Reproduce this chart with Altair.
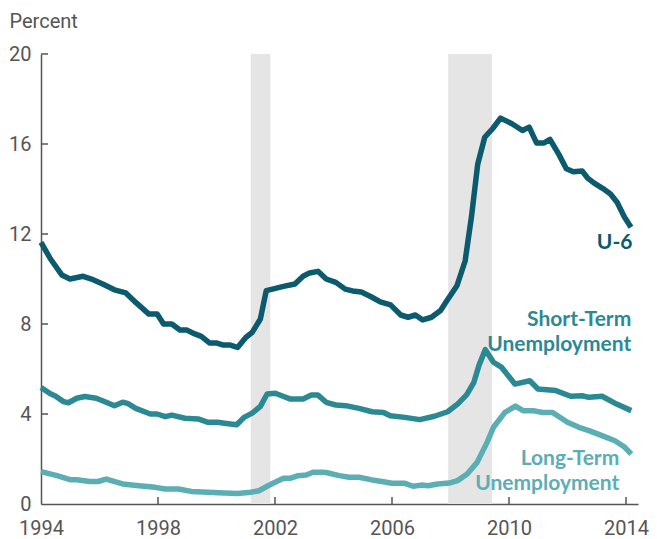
import altair as alt
import pandas as pd

# ---- data ----
u6_years = [1994.0, 1994.32, 1994.71, 1994.99, 1995.44, 1995.78, 1996.11, 1996.51, 1996.9,
            1997.24, 1997.69, 1997.97, 1998.19, 1998.47, 1998.75, 1998.98, 1999.26, 1999.48,
            1999.76, 1999.99, 2000.21, 2000.44, 2000.72, 2001.0, 2001.22, 2001.5, 2001.7,
            2001.95, 2002.29, 2002.68, 2002.96, 2003.18, 2003.47, 2003.75, 2004.08, 2004.4,
            2004.65, 2004.95, 2005.3, 2005.6, 2005.95, 2006.3, 2006.55, 2006.8, 2007.05,
            2007.35, 2007.66, 2007.88, 2008.22, 2008.5, 2008.72, 2008.93, 2009.17, 2009.45,
            2009.71, 2010.1, 2010.46, 2010.69, 2010.94, 2011.2, 2011.4, 2011.7, 2011.96,
            2012.2, 2012.5, 2012.7, 2012.9, 2013.2, 2013.47, 2013.7, 2013.94, 2014.17]
u6_values = [11.63, 10.9, 10.18, 10.0, 10.12, 9.97, 9.78, 9.52, 9.38,
             8.96, 8.44, 8.44, 8.0, 8.0, 7.73, 7.73, 7.56, 7.45,
             7.16, 7.16, 7.07, 7.07, 6.96, 7.4, 7.63, 8.22, 9.48,
             9.56, 9.67, 9.78, 10.12, 10.27, 10.34, 10.0, 9.85, 9.55,
             9.47, 9.42, 9.2, 8.98, 8.85, 8.4, 8.3, 8.4, 8.18,
             8.3, 8.6, 9.04, 9.7, 10.8, 12.8, 15.1, 16.3, 16.7,
             17.15, 16.9, 16.6, 16.75, 16.05, 16.05, 16.2, 15.55, 14.9,
             14.77, 14.8, 14.47, 14.27, 14.03, 13.78, 13.4, 12.77, 12.3]

st_years = [1994.0, 1994.32, 1994.49, 1994.77, 1994.94, 1995.22, 1995.5, 1995.89, 1996.23,
            1996.51, 1996.79, 1996.96, 1997.24, 1997.74, 1997.97, 1998.25, 1998.47, 1998.92,
            1999.37, 1999.71, 2000.04, 2000.27, 2000.69, 2000.94, 2001.22, 2001.5, 2001.73,
            2002.01, 2002.23, 2002.51, 2002.96, 2003.24, 2003.47, 2003.75, 2004.08, 2004.42,
            2004.87, 2005.32, 2005.71, 2005.94, 2006.44, 2006.95, 2007.45, 2007.9, 2008.24,
            2008.55, 2008.8, 2008.97, 2009.19, 2009.47, 2009.75, 2010.2, 2010.71, 2010.99,
            2011.6, 2012.11, 2012.5, 2012.73, 2013.18, 2013.68, 2014.18]
st_values = [5.18, 4.9, 4.8, 4.55, 4.5, 4.7, 4.78, 4.7, 4.52,
             4.37, 4.52, 4.47, 4.25, 4.0, 4.0, 3.88, 3.95, 3.81,
             3.78, 3.63, 3.63, 3.59, 3.52, 3.85, 4.04, 4.34, 4.89,
             4.92, 4.81, 4.67, 4.67, 4.84, 4.84, 4.52, 4.4, 4.37,
             4.25, 4.1, 4.07, 3.92, 3.85, 3.75, 3.9, 4.1, 4.44,
             4.85, 5.41, 6.15, 6.86, 6.3, 6.07, 5.33, 5.48, 5.11,
             5.04, 4.79, 4.81, 4.74, 4.79, 4.44, 4.15]

lt_years = [1994.0, 1994.55, 1994.99, 1995.22, 1995.67, 1995.95, 1996.23, 1996.79, 1997.35,
            1997.91, 1998.25, 1998.7, 1999.14, 1999.71, 2000.27, 2000.72, 2001.17, 2001.45,
            2001.73, 2001.95, 2002.29, 2002.51, 2002.79, 2003.07, 2003.3, 2003.58, 2003.75,
            2004.2, 2004.53, 2004.87, 2005.32, 2005.71, 2005.99, 2006.44, 2006.72, 2007.0,
            2007.23, 2007.56, 2007.96, 2008.24, 2008.57, 2008.91, 2009.25, 2009.47, 2009.86,
            2010.22, 2010.48, 2010.82, 2011.15, 2011.49, 2012.0, 2012.39, 2012.73, 2013.18,
            2013.62, 2013.96, 2014.18]
lt_values = [1.44, 1.26, 1.08, 1.08, 1.0, 1.0, 1.11, 0.89, 0.81,
             0.74, 0.67, 0.67, 0.56, 0.52, 0.49, 0.47, 0.52, 0.59,
             0.79, 0.93, 1.14, 1.14, 1.26, 1.29, 1.41, 1.41, 1.4,
             1.26, 1.19, 1.19, 1.07, 0.99, 0.92, 0.92, 0.79, 0.84,
             0.81, 0.89, 0.93, 1.04, 1.33, 1.85, 2.74, 3.41, 4.07,
             4.35, 4.15, 4.15, 4.07, 4.07, 3.63, 3.41, 3.26, 3.04,
             2.81, 2.52, 2.22]

recession_start = [2001.17, 2007.92]
recession_end = [2001.84, 2009.42]

y_ticks = [0, 4, 8, 12, 16, 20]
x_ticks = [1994, 1998, 2002, 2006, 2010, 2014]

series_names = ["U-6", "Short-Term", "Long-Term"]
series_colors = ["#0b5a6e", "#2b8994", "#5aaeb4"]

label_text = ["U-6", "Short-Term", "Unemployment", "Long-Term", "Unemployment"]
label_series = ["U-6", "Short-Term", "Short-Term", "Long-Term", "Long-Term"]
label_x = [2014.22, 2014.18, 2014.18, 2013.77, 2013.77]
label_y = [11.33, 7.92, 6.81, 1.73, 0.62]

y_title = "Percent"

# ---- build tables ----
rows = []
for name, xs, vs in [("U-6", u6_years, u6_values),
                     ("Short-Term", st_years, st_values),
                     ("Long-Term", lt_years, lt_values)]:
    for x, v in zip(xs, vs):
        rows.append({"series": name, "year": x, "value": v})
lines_df = pd.DataFrame(rows)
rec_df = pd.DataFrame({"start": recession_start, "end": recession_end,
                       "lo": [0] * len(recession_start), "hi": [20] * len(recession_start)})
labels_df = pd.DataFrame({"text": label_text, "series": label_series, "x": label_x, "y": label_y})
ytick_df = pd.DataFrame({"v": y_ticks[1:]})
xtick_df = pd.DataFrame({"v": x_ticks[1:]})

W, H = 597, 450
GRAY = "#555555"
TICK_FONT = "Roboto"
LABEL_FONT = "Lato"

xscale = alt.Scale(domain=[1994, 2014.41], nice=False, zero=False)
yscale = alt.Scale(domain=[0, 20], nice=False)
cscale = alt.Scale(domain=series_names, range=series_colors)

xaxis = alt.Axis(values=x_ticks, format="d", ticks=False, grid=False, labelFlush=False,
                 labelOverlap=False, labelPadding=14, labelFontSize=20, labelFont=TICK_FONT,
                 labelColor=GRAY, domainColor=GRAY, domainWidth=1.5, title=None)
yaxis = alt.Axis(values=y_ticks, ticks=False, grid=False, labelFlush=False,
                 labelOverlap=False, labelPadding=10, labelFontSize=20, labelFont=TICK_FONT,
                 labelColor=GRAY, domainColor=GRAY, domainWidth=1.5,
                 title=y_title, titleAngle=0, titleAlign="left", titleBaseline="alphabetic",
                 titleX=-32, titleY=-27, titleFontSize=20, titleFont=TICK_FONT,
                 titleFontWeight="normal", titleColor=GRAY)

rects = alt.Chart(rec_df).mark_rect(color="#e5e5e5").encode(
    x=alt.X("start:Q", scale=xscale, axis=xaxis),
    x2="end:Q",
    y=alt.Y("lo:Q", scale=yscale, axis=yaxis),
    y2="hi:Q",
)

lines = alt.Chart(lines_df).mark_line(strokeWidth=5.5, strokeJoin="round").encode(
    x=alt.X("year:Q", scale=xscale),
    y=alt.Y("value:Q", scale=yscale),
    color=alt.Color("series:N", scale=cscale, legend=None),
    detail="series:N",
)

yticks = alt.Chart(ytick_df).mark_rule(color=GRAY, strokeWidth=1.5).encode(
    y=alt.Y("v:Q", scale=yscale),
    x=alt.value(0),
    x2=alt.value(7),
)
xticks = alt.Chart(xtick_df).mark_rule(color=GRAY, strokeWidth=1.5).encode(
    x=alt.X("v:Q", scale=xscale),
    y=alt.value(H),
    y2=alt.value(H - 7),
)

labels = alt.Chart(labels_df).mark_text(align="right", baseline="alphabetic", font=LABEL_FONT,
                                        fontWeight="bold", fontSize=21).encode(
    x=alt.X("x:Q", scale=xscale),
    y=alt.Y("y:Q", scale=yscale),
    text="text:N",
    color=alt.Color("series:N", scale=cscale, legend=None),
)

chart = alt.layer(rects, lines, yticks, xticks, labels).properties(
    width=W, height=H,
    padding={"top": 3, "left": 0, "right": 0, "bottom": 0},
).configure_view(stroke=None)

chart.save("out.html", embed_options={"renderer": "svg", "actions": False})
